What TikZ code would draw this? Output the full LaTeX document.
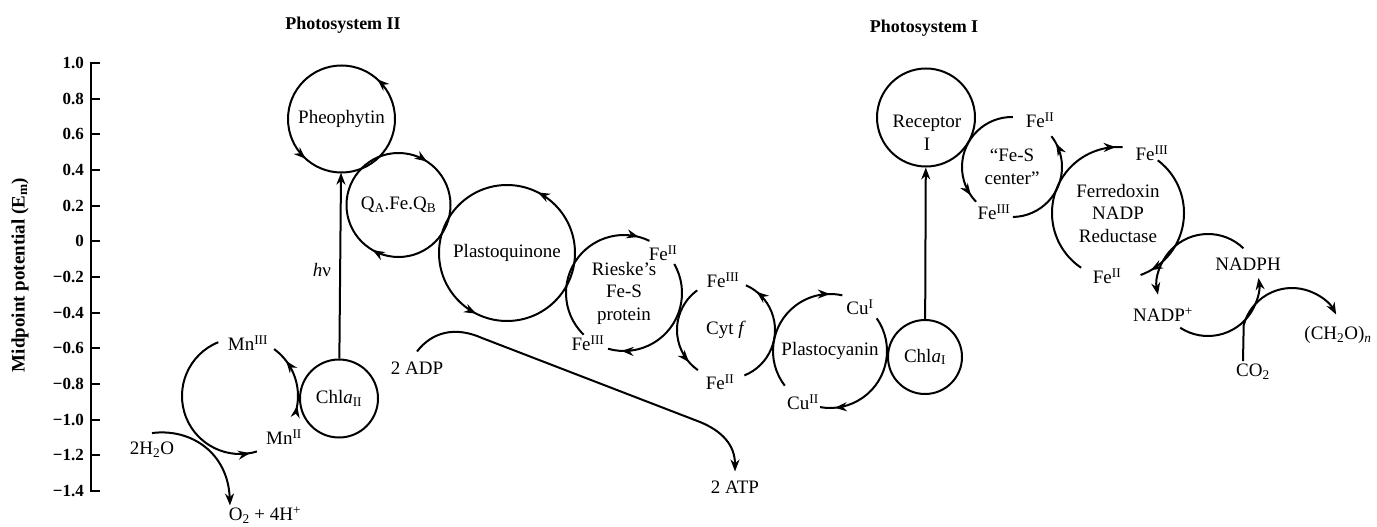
\documentclass[tikz,border=0pt]{standalone}
\usepackage{fontspec}
\setmainfont{Liberation Serif}
\usetikzlibrary{arrows.meta,decorations.markings}
\newcommand\labfont{\fontsize{19}{22.5}\selectfont}
\begin{document}
\begin{tikzpicture}[x=1pt,y=1pt,
  lab/.style={font=\labfont, inner sep=1pt, align=center},
  ttl/.style={font=\fontsize{18}{20}\selectfont\bfseries, inner sep=1pt},
  ring/.style={circle, inner sep=0pt, minimum size=#1, align=center, font=\labfont},
  cyc/.style={line width=2pt},
  tip/.style={-{Stealth[length=12pt,width=9pt]}},
  arrowat/.style={postaction={decorate, decoration={markings, mark=at position #1 with {\arrow{Stealth[length=12pt,width=9pt]}}}}},
  arrowtwo/.style 2 args={postaction={decorate, decoration={markings,
      mark=at position #1 with {\arrow{Stealth[length=12pt,width=9pt]}},
      mark=at position #2 with {\arrow{Stealth[length=12pt,width=9pt]}}}}}
]
\useasboundingbox (0,0) rectangle (1377,-527);

% ---------- axis ----------
\draw[cyc] (100,-63) -- (91,-63) -- (91,-491) -- (100,-491);
\foreach \i in {1,...,11} \draw[cyc] (91,-63-35.67*\i) -- (100,-63-35.67*\i);
\foreach \v [count=\i from 0] in {1.0,0.8,0.6,0.4,0.2,0,−0.2,−0.4,−0.6,−0.8,−1.0,−1.2,−1.4}
  \node[lab, anchor=east, font=\fontsize{17}{19}\selectfont\bfseries] (tick\i) at (85,-63-35.67*\i) {\v};
\node[lab, rotate=90, font=\labfont\bfseries] (ytitle) at (20,-275) {Midpoint potential (E\textsubscript{m})};

% ---------- titles ----------
\node[ttl] (ps2) at (343,-25) {Photosystem II};
\node[ttl] (ps1) at (924,-28) {Photosystem I};

% ---------- Mn cycle and water ----------
\coordinate (mn) at (240,-396);
\draw[cyc, arrowat=0.96] ([shift={(112:58)}]mn) arc[start angle=112, end angle=287, radius=58];
\draw[cyc, arrowtwo={0.09}{0.76}] ([shift={(-16:58)}]mn) arc[start angle=-16, end angle=54, radius=58];
\node[lab] (mn3) at (248,-343) {Mn\textsuperscript{III}};
\node[lab] (mn2) at (284,-437) {Mn\textsuperscript{II}};
\node[lab] (h2o) at (152,-450) {2H\textsubscript{2}O};
\node[lab] (o2) at (265,-515) {O\textsubscript{2} + 4H\textsuperscript{+}};
\draw[cyc, tip] ([yshift=8]h2o.north) .. controls (190,-428) and (228,-452) .. ([xshift=-35]o2.north);

% ---------- Photosystem II ----------
\node[ring=78pt, draw, cyc] (chl2) at (339,-398.5) {Chl\textit{a}\textsubscript{II}};
\node[ring=107pt] (pheo) at (341.5,-119) {Pheophytin};
\draw[cyc, arrowtwo={0.133}{0.633}] ([shift={(0:53.5)}]pheo.center) arc[start angle=0, end angle=360, radius=53.5];
\draw[cyc, tip] (chl2) -- (pheo);
\node[lab] (hnu) at (322,-270) {\textit{h}ν};

\node[ring=104pt] (qa) at (398.5,-205) {Q\textsubscript{A}.Fe.Q\textsubscript{B}};
\draw[cyc, arrowtwo={0.333}{0.842}] ([shift={(360:52)}]qa.center) arc[start angle=360, end angle=0, radius=52];

\node[ring=136pt] (pq) at (507,-253) {Plastoquinone};
\draw[cyc, arrowtwo={0.175}{0.675}] ([shift={(0:68)}]pq.center) arc[start angle=0, end angle=360, radius=68];

% ---------- Rieske ----------
\node[ring=116pt] (rieske) at (624,-293) {Rieske's\\Fe-S\\protein};
\draw[cyc, arrowat=0.93] ([shift={(226:58)}]rieske.center) arc[start angle=226, end angle=64, radius=58];
\draw[cyc, arrowat=0.9] ([shift={(30:58)}]rieske.center) arc[start angle=30, end angle=-106, radius=58];
\node[lab] (fe2a) at (663,-253) {Fe\textsuperscript{II}};
\node[lab] (fe3a) at (588,-343) {Fe\textsuperscript{III}};

% ---------- Cyt f ----------
\node[ring=98pt] (cytf) at (726,-330) {Cyt \textit{f}};
\draw[cyc, arrowat=0.87] ([shift={(126:49)}]cytf.center) arc[start angle=126, end angle=235, radius=49];
\draw[cyc, arrowat=0.89] ([shift={(-68:49)}]cytf.center) arc[start angle=-68, end angle=66, radius=49];
\node[lab] (fe3b) at (723,-280) {Fe\textsuperscript{III}};
\node[lab] (fe2b) at (720,-382) {Fe\textsuperscript{II}};

% ---------- Plastocyanin ----------
\node[ring=114pt] (pc) at (830,-351) {Plastocyanin};
\draw[cyc, arrowat=0.91] ([shift={(217.5:57)}]pc.center) arc[start angle=217.5, end angle=77.5, radius=57];
\draw[cyc, arrowat=0.89] ([shift={(35:57)}]pc.center) arc[start angle=35, end angle=-100, radius=57];
\node[lab] (cu1) at (860,-307) {Cu\textsuperscript{I}};
\node[lab] (cu2) at (803,-402) {Cu\textsuperscript{II}};

% ---------- ATP ----------
\node[lab] (adp) at (417,-368) {2 ADP};
\node[lab] (atp) at (735,-487) {2 ATP};
\draw[cyc, tip] ([yshift=9]adp.north) .. controls (432,-332) and (455,-326) .. (482,-338) -- (700,-422) .. controls (722,-431) and (735,-445) .. ([yshift=8]atp.north);

% ---------- Photosystem I ----------
\node[ring=74pt, draw, cyc] (chl1) at (925,-357) {Chl\textit{a}\textsubscript{I}};
\node[ring=98pt, draw, cyc] (rec) at (926,-117.5) {};
\node[lab, inner sep=0pt] (rectxt) at (927,-133) {Receptor\\I};
\draw[cyc, tip] (chl1) -- (rec);

\node[ring=100pt] (fes) at (1012,-167) {``Fe-S\\center''};
\draw[cyc, arrowat=0.93] ([shift={(89:50)}]fes.center) arc[start angle=89, end angle=224, radius=50];
\draw[cyc, arrowat=0.92] ([shift={(-89:50)}]fes.center) arc[start angle=-89, end angle=38, radius=50];
\node[lab] (fe2c) at (1040,-120) {Fe\textsuperscript{II}};
\node[lab] (fe3c) at (994,-212) {Fe\textsuperscript{III}};

\node[ring=132pt] (fd) at (1118,-213) {Ferredoxin\\NADP\\Reductase};
\draw[cyc, arrowat=0.96] ([shift={(236:66)}]fd.center) arc[start angle=236, end angle=86, radius=66];
\draw[cyc, arrowat=0.92] ([shift={(53:66)}]fd.center) arc[start angle=53, end angle=-70, radius=66];
\node[lab] (fe3d) at (1152,-153) {Fe\textsuperscript{III}};
\node[lab] (fe2d) at (1107,-276) {Fe\textsuperscript{II}};

% ---------- NADP / CO2 ----------
\coordinate (nadpc) at (1208,-285);
\draw[cyc, tip] ([shift={(46:51)}]nadpc) arc[start angle=46, end angle=191, radius=51];
\draw[cyc, tip] ([shift={(237:51)}]nadpc) arc[start angle=237, end angle=368, radius=51];
\node[lab] (nadph) at (1248,-264) {NADPH};
\node[lab] (nadp) at (1163,-315) {NADP\textsuperscript{+}};
\node[lab] (co2) at (1253,-372) {CO\textsubscript{2}};
\node[lab] (ch2o) at (1338,-335) {(CH\textsubscript{2}O)\textsubscript{\textit{n}}};
\coordinate (c2) at (1292,-338);
\draw[cyc, tip] ([xshift=-10,yshift=2]co2.north) -- ([shift={(165:50)}]c2) arc[start angle=165, end angle=28, radius=50];
\end{tikzpicture}
\end{document}
